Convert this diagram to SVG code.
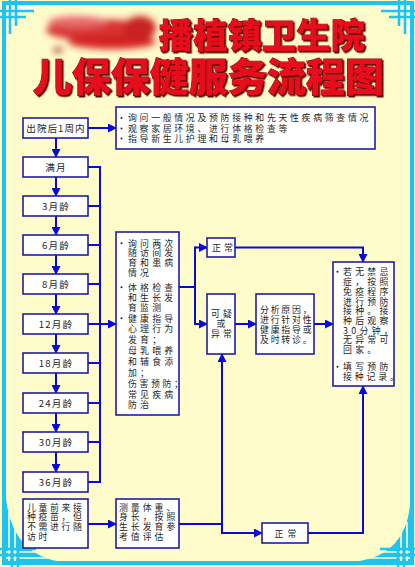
<svg xmlns="http://www.w3.org/2000/svg" width="415" height="567" viewBox="0 0 415 567">
<style>
.box{fill:#fff;stroke:#1e1e9e;stroke-width:1.6}
.t{font-family:"Noto Sans CJK SC","Noto Sans",sans-serif;font-size:8.9px;fill:#262626}
.l{font-family:"Noto Sans CJK SC","Noto Sans",sans-serif;font-size:9.6px;fill:#262626;text-anchor:middle;letter-spacing:1.2px}
.b{fill:#262626}
.c{fill:none;stroke:#0a0ad8;stroke-width:2}
.ca{fill:none;stroke:#0a0ad8;stroke-width:2;marker-end:url(#ah)}
.cy{stroke:#1ec4ee;stroke-width:2.6;fill:none}
.gap{stroke:#fffccc;stroke-width:1.6;fill:none}
.title{font-family:"Noto Sans CJK SC",sans-serif;font-weight:900;fill:#e8101a;stroke:#8a0000;stroke-width:1;paint-order:stroke;filter:url(#sh)}
</style>
<defs>
<marker id="ah" markerUnits="userSpaceOnUse" markerWidth="9" markerHeight="9" refX="8" refY="4.5" orient="auto">
<path d="M0,0 L9,4.5 L0,9 z" fill="#0a0ad8"/>
</marker>
<filter id="sh" x="-10%" y="-10%" width="130%" height="130%">
<feDropShadow dx="1.5" dy="1.5" stdDeviation="0.4" flood-color="#600000"/>
</filter>
<filter id="blur" x="-30%" y="-50%" width="160%" height="200%">
<feGaussianBlur stdDeviation="3.5"/>
</filter>
</defs>

<!-- background and frame -->
<rect x="0" y="0" width="415" height="567" fill="#fffccc"/>
<path d="M6,42 Q10,8 46,5 L6,5 Z" fill="#fbfff2"/>
<path d="M410,42 Q406,8 370,5 L410,5 Z" fill="#fbfff2"/>
<path d="M6,498 Q12,555 62,562 L6,562 Z" fill="#1ec4ee"/>
<path d="M410,505 Q405,557 352,562 L410,562 Z" fill="#1ec4ee"/>
<g>
<line class="gap" x1="9" y1="512" x2="9" y2="561"/>
<line class="gap" x1="15" y1="525" x2="15" y2="561"/>
<line class="gap" x1="6" y1="552" x2="50" y2="552"/>
<line class="gap" x1="6" y1="558" x2="58" y2="558"/>
<line class="gap" x1="407" y1="522" x2="407" y2="561"/>
<line class="gap" x1="401" y1="534" x2="401" y2="561"/>
<line class="gap" x1="410" y1="552" x2="372" y2="552"/>
<line class="gap" x1="410" y1="558" x2="362" y2="558"/>
</g>
<rect x="4" y="3" width="408" height="560" fill="none" stroke="#1ec4ee" stroke-width="4"/>
<g>
<line class="cy" x1="10" y1="0" x2="10" y2="34"/>
<line class="cy" x1="16" y1="0" x2="16" y2="26"/>
<line class="cy" x1="0" y1="11" x2="34" y2="11"/>
<line class="cy" x1="0" y1="17" x2="26" y2="17"/>
<line class="cy" x1="405" y1="0" x2="405" y2="34"/>
<line class="cy" x1="399" y1="0" x2="399" y2="26"/>
<line class="cy" x1="415" y1="11" x2="381" y2="11"/>
<line class="cy" x1="415" y1="17" x2="389" y2="17"/>
<line class="cy" x1="12" y1="567" x2="12" y2="530"/>
<line class="cy" x1="18" y1="567" x2="18" y2="540"/>
<line class="cy" x1="0" y1="549" x2="36" y2="549"/>
<line class="cy" x1="0" y1="555" x2="28" y2="555"/>
<line class="cy" x1="404" y1="567" x2="404" y2="530"/>
<line class="cy" x1="398" y1="567" x2="398" y2="540"/>
<line class="cy" x1="415" y1="549" x2="380" y2="549"/>
<line class="cy" x1="415" y1="555" x2="388" y2="555"/>
</g>

<!-- title -->
<g filter="url(#blur)">
<ellipse cx="98" cy="30" rx="52" ry="11" fill="#d83030"/>
<ellipse cx="112" cy="42" rx="44" ry="7" fill="#d42020"/>
<ellipse cx="78" cy="22" rx="30" ry="6" fill="#e86a6a"/>
<ellipse cx="140" cy="28" rx="16" ry="12" fill="#c82020"/>
<ellipse cx="58" cy="50" rx="5" ry="2" fill="#901010"/>
</g>
<text class="title" x="159" y="48" font-size="34" letter-spacing="0.4">播植镇卫生院</text>
<text class="title" x="33" y="91" font-size="39" letter-spacing="0">儿保保健服务流程图</text>

<!-- connectors -->
<g id="connectors">
<line class="ca" x1="88" y1="128" x2="116" y2="128"/>
<line class="ca" x1="56" y1="138" x2="56" y2="157"/>
<line class="ca" x1="56" y1="177" x2="56" y2="196"/>
<line class="ca" x1="56" y1="216" x2="56" y2="235"/>
<line class="ca" x1="56" y1="255" x2="56" y2="274"/>
<line class="ca" x1="56" y1="294" x2="56" y2="314"/>
<line class="ca" x1="56" y1="334" x2="56" y2="353"/>
<line class="ca" x1="56" y1="373" x2="56" y2="393"/>
<line class="ca" x1="56" y1="413" x2="56" y2="432"/>
<line class="ca" x1="56" y1="452" x2="56" y2="472"/>
<line class="c" x1="100" y1="167" x2="100" y2="482"/>
<line class="c" x1="88" y1="167" x2="101" y2="167"/>
<line class="c" x1="88" y1="206" x2="100" y2="206"/>
<line class="c" x1="88" y1="245" x2="100" y2="245"/>
<line class="c" x1="88" y1="284" x2="100" y2="284"/>
<line class="ca" x1="88" y1="324" x2="116" y2="324"/>
<line class="c" x1="88" y1="363" x2="100" y2="363"/>
<line class="c" x1="88" y1="403" x2="100" y2="403"/>
<line class="c" x1="88" y1="442" x2="100" y2="442"/>
<line class="c" x1="88" y1="482" x2="101" y2="482"/>
<line class="c" x1="179" y1="287" x2="195" y2="287"/>
<line class="c" x1="195" y1="246.5" x2="195" y2="325"/>
<line class="ca" x1="195" y1="247.5" x2="207" y2="247.5"/>
<line class="ca" x1="195" y1="324" x2="207" y2="324"/>
<polyline class="ca" points="235,247.5 363,247.5 363,262"/>
<line class="ca" x1="235" y1="324" x2="256" y2="324"/>
<line class="ca" x1="314" y1="324" x2="333" y2="324"/>
<line class="ca" x1="88" y1="524" x2="116" y2="524"/>
<line class="c" x1="179" y1="524" x2="222" y2="524"/>
<line class="ca" x1="222" y1="534" x2="222" y2="354"/>
<line class="ca" x1="221" y1="533" x2="262" y2="533"/>
<polyline class="ca" points="308,533 363,533 363,386"/>
</g>

<!-- left column -->
<g id="n_discharge"><rect class="box" x="23" y="118" width="65" height="20"/><text class="l" x="56" y="131.5" style="letter-spacing:1px">出院后1周内</text></g>
<g id="n_m1"><rect class="box" x="23" y="157" width="65" height="20"/><text class="l" x="56" y="170.5">满月</text></g>
<g id="n_m3"><rect class="box" x="23" y="196" width="65" height="20"/><text class="l" x="56" y="209.5">3月龄</text></g>
<g id="n_m6"><rect class="box" x="23" y="235" width="65" height="20"/><text class="l" x="56" y="248.5">6月龄</text></g>
<g id="n_m8"><rect class="box" x="23" y="274" width="65" height="20"/><text class="l" x="56" y="287.5">8月龄</text></g>
<g id="n_m12"><rect class="box" x="23" y="314" width="65" height="20"/><text class="l" x="56" y="327.5">12月龄</text></g>
<g id="n_m18"><rect class="box" x="23" y="353" width="65" height="20"/><text class="l" x="56" y="366.5">18月龄</text></g>
<g id="n_m24"><rect class="box" x="23" y="393" width="65" height="20"/><text class="l" x="56" y="406.5">24月龄</text></g>
<g id="n_m30"><rect class="box" x="23" y="432" width="65" height="20"/><text class="l" x="56" y="445.5">30月龄</text></g>
<g id="n_m36"><rect class="box" x="23" y="472" width="65" height="20"/><text class="l" x="56" y="485.5">36月龄</text></g>

<!-- top info box -->
<g id="n_info1">
<rect class="box" x="116" y="107" width="259" height="42"/>
<circle class="b" cx="121.5" cy="118" r="1"/><circle class="b" cx="121.5" cy="128.4" r="1"/><circle class="b" cx="121.5" cy="138.4" r="1"/>
<text class="t" style="letter-spacing:2.7px"><tspan x="128" y="121.3">询问一般情况及预防接种和先天性疾病筛查情况</tspan><tspan x="128" y="131.7">观察家居环境、进行体格检查等</tspan><tspan x="128" y="141.7">指导新生儿护理和母乳喂养</tspan></text>
</g>

<!-- middle box -->
<g id="n_followup">
<rect class="box" x="116" y="232" width="63" height="183"/>
<circle class="b" cx="121.5" cy="243.3" r="1"/><circle class="b" cx="121.5" cy="287.3" r="1"/><circle class="b" cx="121.5" cy="318.3" r="1"/>
<text class="t" style="letter-spacing:3.2px"><tspan x="128" y="246.6">询问两次</tspan><tspan x="128" y="256.1">随访间发</tspan><tspan x="128" y="266.1">育和患病</tspan><tspan x="128" y="275.6">情况</tspan><tspan x="128" y="290.6">体格检查</tspan><tspan x="128" y="300.6">和生长发</tspan><tspan x="128" y="310.6">育监测</tspan><tspan x="128" y="321.6">健康指导</tspan><tspan x="128" y="332.1">心理行为</tspan><tspan x="128" y="342.6">发育；</tspan><tspan x="128" y="354.1">母乳喂养</tspan><tspan x="128" y="365.1">和辅食添</tspan><tspan x="128" y="376.1">加；</tspan><tspan x="128" y="386.6" style="letter-spacing:2.6px">伤害预防；</tspan><tspan x="128" y="398.1">常见疾病</tspan><tspan x="128" y="408.1">防治</tspan></text>
</g>

<g id="n_normal1"><rect class="box" x="207" y="238" width="28" height="19"/><text class="t" x="212" y="251" style="letter-spacing:3.1px">正常</text></g>
<g id="n_abnormal"><rect class="box" x="207" y="294" width="28" height="60"/>
<text class="t" style="letter-spacing:3.1px"><tspan x="211" y="316.6">可疑</tspan><tspan x="216.6" y="326.6">或</tspan><tspan x="211" y="336.6">异常</tspan></text></g>

<g id="n_analysis"><rect class="box" x="256" y="294" width="58" height="60"/>
<text class="t" style="letter-spacing:1.8px"><tspan x="260" y="312.6">分析原因，</tspan><tspan x="260" y="322.6">进行针对性</tspan><tspan x="260" y="332.6">健康指导或</tspan><tspan x="260" y="342.6">及时转诊。</tspan></text></g>

<g id="n_vaccinate"><rect class="box" x="333" y="262" width="61" height="124"/>
<circle class="b" cx="337.5" cy="271.8" r="1"/><circle class="b" cx="337.5" cy="366.8" r="1"/>
<text class="t" style="letter-spacing:3.3px"><tspan x="343" y="275.1">若无禁忌</tspan><tspan x="343" y="285.1">症，按照</tspan><tspan x="343" y="294.6">免疫程序</tspan><tspan x="343" y="304.6">进行预防</tspan><tspan x="343" y="314.1">接种。接</tspan><tspan x="343" y="323.6">种后观察</tspan><tspan x="343" y="333.6">30分钟，</tspan><tspan x="343" y="342.8">无异常可</tspan><tspan x="343" y="352.6">回家。</tspan><tspan x="343" y="370.1">填写预防</tspan><tspan x="343" y="380.1" style="letter-spacing:2.85px">接种记录。</tspan></text></g>

<g id="n_vaccine_only"><rect class="box" x="23" y="499" width="65" height="49"/>
<text class="t" style="letter-spacing:2.6px"><tspan x="27" y="510.6">儿童前来接</tspan><tspan x="27" y="520.1">种疫苗，但</tspan><tspan x="27" y="530.1">不需进行随</tspan><tspan x="27" y="540.1">访时</tspan></text></g>

<g id="n_measure"><rect class="box" x="116" y="499" width="63" height="49"/>
<text class="t" style="letter-spacing:3px"><tspan x="119" y="510.6">测量体重、</tspan><tspan x="119" y="520.1">身长，按照</tspan><tspan x="119" y="530.1">生长发育参</tspan><tspan x="119" y="540.1">考值评估</tspan></text></g>

<g id="n_normal2"><rect class="box" x="262" y="523" width="46" height="20"/><text class="t" x="274.5" y="536.6" style="letter-spacing:4.1px">正常</text></g>
</svg>
